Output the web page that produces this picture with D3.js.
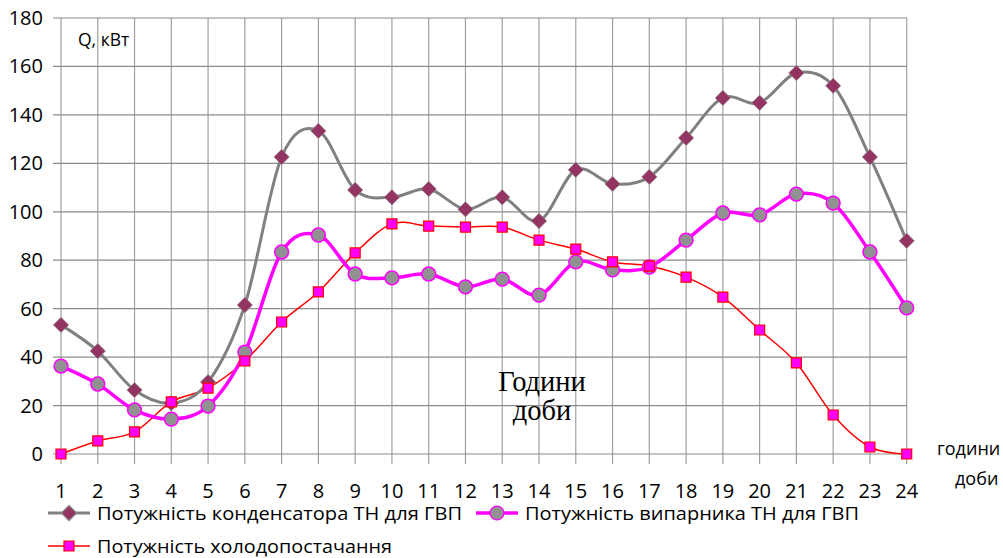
<!DOCTYPE html>
<html>
<head>
<meta charset="utf-8">
<script src="https://cdn.jsdelivr.net/npm/d3@7"></script>
<style>
  body { margin: 0; background: #fff; }
  svg { display: block; }
  text { font-family: "Open Sans", "Liberation Sans", sans-serif; fill: #000; }
</style>
</head>
<body>
<div id="container"></div>
<script>
/* ---------- DATA ---------- */
const hours = d3.range(1, 25);
const condenser = [53.3, 42.5, 26.4, 21, 29.7, 61.5, 122.6, 133.4, 109, 106, 109.4, 101,
  106, 96.2, 117.3, 111.5, 114.4, 130.5, 147, 145, 157.3, 152, 122.6, 88];
const evaporator = [36.3, 28.9, 18.2, 14.4, 19.8, 42, 83.4, 90.4, 74.3, 72.7, 74.3, 69,
  72.2, 65.6, 79.3, 76, 77.2, 88.3, 99.5, 98.7, 107.3, 103.6, 83.4, 60.3];
const cooling = [0, 5.4, 9.1, 21.5, 27.2, 38.4, 54.5, 66.9, 83, 95, 94.1, 93.7,
  93.7, 88.3, 84.6, 79.3, 77.6, 73, 64.8, 51.2, 37.6, 16.1, 2.9, 0];
const yTicks = d3.range(0, 181, 20);
const seriesNames = [
  "Потужність конденсатора ТН для ГВП",
  "Потужність випарника ТН для ГВП",
  "Потужність холодопостачання"
];

/* ---------- CONSTANTS ---------- */
const width = 1003, height = 558;
const plot = { left: 61, right: 907, top: 18, bottom: 454 };

const svg = d3.select("#container").append("svg")
  .attr("width", width).attr("height", height);

const xScale = d3.scaleLinear().domain([1, 24]).range([plot.left, plot.right - 0.3]);
const yScale = d3.scaleLinear().domain([0, 180]).range([plot.bottom, plot.top]);

// + GRID
svg.append("g").selectAll("line")
  .data(hours)
  .join("line")
  .attr("x1", d => xScale(d)).attr("x2", d => xScale(d))
  .attr("y1", plot.top).attr("y2", plot.bottom + 10)
  .attr("stroke", "#a0a0a0").attr("stroke-width", 1.2);

svg.append("g").selectAll("line")
  .data(yTicks)
  .join("line")
  .attr("x1", plot.left - 8).attr("x2", plot.right)
  .attr("y1", d => yScale(d)).attr("y2", d => yScale(d))
  .attr("stroke", "#8c8c8c").attr("stroke-width", 1.2);

// + AXIS LABELS
svg.append("g").selectAll("text")
  .data(yTicks)
  .join("text")
  .attr("x", 43).attr("y", d => yScale(d) + 7)
  .attr("text-anchor", "end")
  .style("font-size", "20px")
  .text(d => d);

svg.append("g").selectAll("text")
  .data(hours)
  .join("text")
  .attr("x", d => xScale(d)).attr("y", 498)
  .attr("text-anchor", "middle")
  .style("font-size", "20px")
  .text(d => d);

svg.append("text").attr("x", 78).attr("y", 46).style("font-size", "17.5px").text("Q, кВт");
svg.append("text").attr("x", 937).attr("y", 455).style("font-size", "18px").text("години");
svg.append("text").attr("x", 955).attr("y", 485).style("font-size", "18px").text("доби");

svg.append("text").attr("x", 542).attr("y", 391).attr("text-anchor", "middle")
  .style("font-family", "'Liberation Serif', 'DejaVu Serif', serif").style("font-size", "28.5px")
  .text("Години");
svg.append("text").attr("x", 542).attr("y", 420).attr("text-anchor", "middle")
  .style("font-family", "'Liberation Serif', 'DejaVu Serif', serif").style("font-size", "28.5px")
  .text("доби");

// + LINES
const line = d3.line()
  .x((d, i) => xScale(hours[i]))
  .y(d => yScale(d))
  .curve(d3.curveCatmullRom.alpha(0));

const diamond = d3.symbol().type(d3.symbolDiamond2).size(150);
const circle = d3.symbol().type(d3.symbolCircle).size(150);
const square = d3.symbol().type(d3.symbolSquare).size(100);

svg.append("path").datum(cooling)
  .attr("d", line).attr("fill", "none")
  .attr("stroke", "#ff0000").attr("stroke-width", 1.5);

svg.append("path").datum(evaporator)
  .attr("d", line).attr("fill", "none")
  .attr("stroke", "#ff00ff").attr("stroke-width", 3.5);

svg.append("path").datum(condenser)
  .attr("d", line).attr("fill", "none")
  .attr("stroke", "#808080").attr("stroke-width", 3);

// markers
svg.append("g").selectAll("path")
  .data(condenser)
  .join("path")
  .attr("transform", (d, i) => `translate(${xScale(hours[i])},${yScale(d)})`)
  .attr("d", diamond)
  .attr("fill", "#943463").attr("stroke", "#8a8a8a").attr("stroke-width", 0.6);

svg.append("g").selectAll("path")
  .data(evaporator)
  .join("path")
  .attr("transform", (d, i) => `translate(${xScale(hours[i])},${yScale(d)})`)
  .attr("d", circle)
  .attr("fill", "#919191").attr("stroke", "#ff00ff").attr("stroke-width", 1.5);

svg.append("g").selectAll("path")
  .data(cooling)
  .join("path")
  .attr("transform", (d, i) => `translate(${xScale(hours[i])},${yScale(d)})`)
  .attr("d", square)
  .attr("fill", "#ff00ff").attr("stroke", "#ff0000").attr("stroke-width", 1.2);

// + LEGEND
const legendItems = [
  { x: 48, y: 513, stroke: "#808080", sw: 3, sym: diamond, fill: "#943463", ms: "#8a8a8a", len: 365, name: seriesNames[0] },
  { x: 476, y: 513, stroke: "#ff00ff", sw: 3.5, sym: circle, fill: "#919191", ms: "#ff00ff", len: 334, name: seriesNames[1] },
  { x: 48, y: 546, stroke: "#ff0000", sw: 1.5, sym: square, fill: "#ff00ff", ms: "#ff0000", len: 295, name: seriesNames[2] }
];
const lg = svg.append("g").selectAll("g").data(legendItems).join("g")
  .attr("transform", d => `translate(${d.x},${d.y})`);
lg.append("line").attr("x1", 0).attr("x2", 42)
  .attr("stroke", d => d.stroke).attr("stroke-width", d => d.sw);
lg.append("path").attr("transform", "translate(21,0)")
  .attr("d", d => d.sym())
  .attr("fill", d => d.fill).attr("stroke", d => d.ms).attr("stroke-width", 1.2);
lg.append("text").attr("x", 49).attr("y", 6.5)
  .attr("textLength", d => d.len).attr("lengthAdjust", "spacingAndGlyphs")
  .style("font-size", "18.5px")
  .text(d => d.name);
</script>
</body>
</html>
